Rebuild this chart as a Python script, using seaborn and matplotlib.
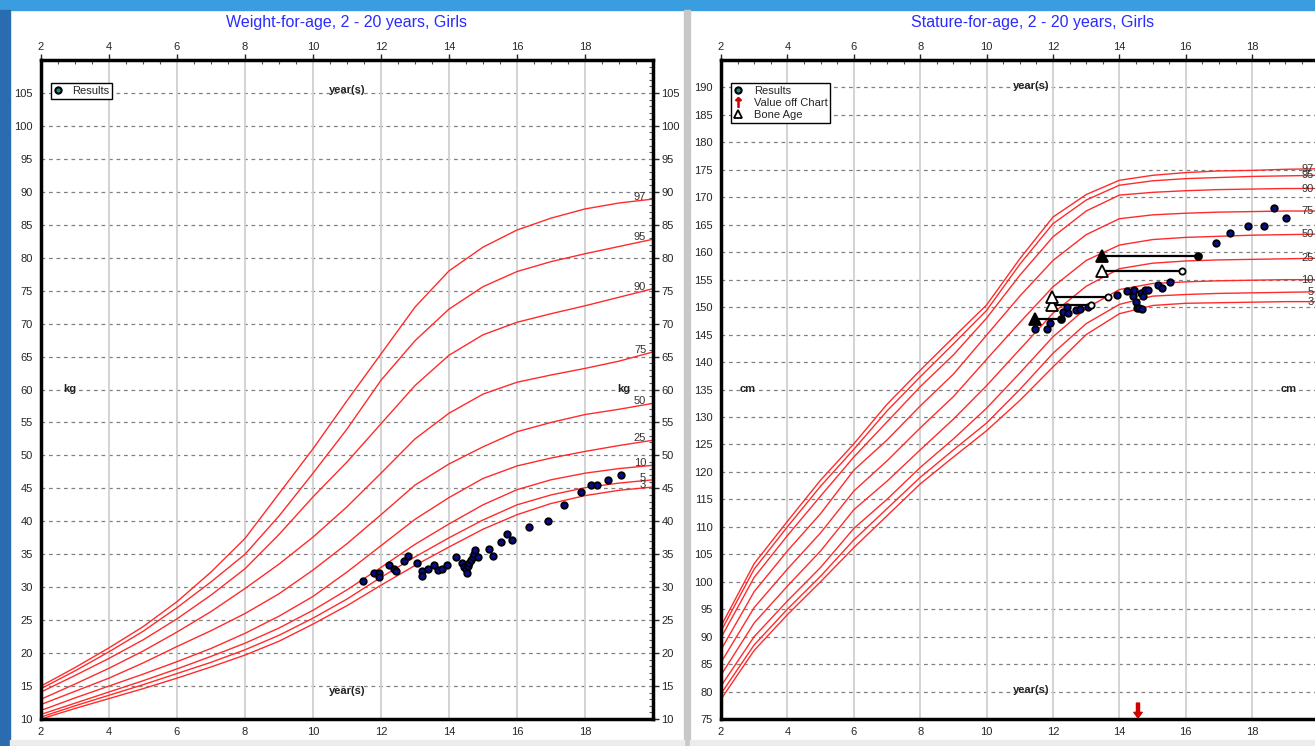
import numpy as np
import pandas as pd
import matplotlib.pyplot as plt
import seaborn as sns
from matplotlib.lines import Line2D
from matplotlib.patches import Rectangle
from matplotlib.ticker import MultipleLocator

# 年龄 (years)
ages = [2, 3, 4, 5, 6, 7, 8, 9, 10, 11, 12, 13, 14, 15, 16, 17, 18, 19, 20]
pct_names = ["3", "5", "10", "25", "50", "75", "90", "95", "97"]

# weight-for-age percentiles (kg)
wt_p3 = [10.0, 11.6, 13.1, 14.6, 16.2, 17.9, 19.7, 21.8, 24.4, 27.2, 30.3, 33.3, 36.1, 38.8, 41.0, 42.7, 43.9, 44.7, 45.2]
wt_p5 = [10.3, 12.0, 13.6, 15.2, 16.9, 18.6, 20.5, 22.7, 25.3, 28.2, 31.5, 34.6, 37.5, 40.2, 42.5, 44.0, 45.1, 45.8, 46.3]
wt_p10 = [10.7, 12.4, 14.1, 15.8, 17.6, 19.5, 21.5, 23.8, 26.5, 29.6, 33.0, 36.5, 39.6, 42.5, 44.8, 46.3, 47.3, 48.0, 48.5]
wt_p25 = [11.3, 13.2, 15.0, 16.8, 18.7, 20.7, 23.0, 25.6, 28.6, 32.3, 36.3, 40.3, 43.6, 46.5, 48.4, 49.6, 50.6, 51.5, 52.3]
wt_p50 = [12.2, 14.2, 16.2, 18.5, 21.0, 23.4, 26.0, 29.0, 32.6, 36.6, 41.0, 45.5, 48.7, 51.3, 53.6, 55.0, 56.2, 57.0, 57.9]
wt_p75 = [13.0, 15.3, 17.7, 20.3, 23.2, 26.3, 29.8, 33.5, 37.6, 42.2, 47.3, 52.5, 56.4, 59.3, 61.1, 62.2, 63.2, 64.3, 65.7]
wt_p90 = [14.1, 16.6, 19.2, 22.0, 25.2, 28.8, 32.8, 38.0, 43.7, 49.0, 54.8, 60.6, 65.2, 68.3, 70.2, 71.5, 72.7, 74.0, 75.3]
wt_p95 = [14.6, 17.3, 20.2, 23.3, 26.9, 30.8, 35.0, 40.8, 47.3, 54.0, 61.4, 67.4, 72.2, 75.6, 77.9, 79.4, 80.6, 81.7, 82.8]
wt_p97 = [15.0, 17.8, 20.8, 24.0, 27.8, 32.3, 37.4, 44.2, 51.0, 58.3, 65.4, 72.5, 78.0, 81.6, 84.2, 86.0, 87.4, 88.3, 88.9]

# stature-for-age percentiles (cm)
ht_p3 = [78.6, 87.5, 94.0, 100.0, 106.2, 112.0, 117.8, 122.7, 127.5, 133.0, 139.1, 145.0, 148.8, 150.3, 150.7, 150.8, 150.9, 151.0, 151.0]
ht_p5 = [79.6, 88.5, 95.0, 101.0, 107.6, 113.3, 119.0, 124.0, 128.9, 135.0, 141.6, 147.0, 150.5, 152.0, 152.3, 152.5, 152.6, 152.7, 152.8]
ht_p10 = [81.0, 90.0, 96.5, 102.6, 109.7, 115.0, 120.8, 126.0, 131.6, 138.0, 144.6, 149.8, 153.2, 154.3, 154.6, 154.8, 154.9, 155.0, 155.0]
ht_p25 = [83.0, 92.5, 99.2, 105.6, 113.1, 118.3, 124.0, 129.6, 135.7, 142.3, 148.9, 153.8, 157.0, 158.0, 158.4, 158.6, 158.7, 158.8, 158.9]
ht_p50 = [85.3, 95.3, 102.3, 108.9, 116.5, 122.0, 128.0, 133.7, 140.5, 147.2, 153.7, 158.5, 161.3, 162.3, 162.7, 162.9, 163.1, 163.2, 163.3]
ht_p75 = [87.6, 98.2, 105.6, 112.4, 120.3, 125.8, 132.0, 137.8, 144.9, 152.0, 158.5, 163.2, 166.1, 166.8, 167.1, 167.3, 167.4, 167.5, 167.5]
ht_p90 = [89.8, 100.8, 108.4, 115.6, 122.7, 129.1, 135.5, 141.3, 148.0, 155.8, 162.8, 167.5, 170.4, 170.9, 171.2, 171.4, 171.5, 171.6, 171.6]
ht_p95 = [91.0, 102.3, 110.0, 117.4, 124.1, 131.1, 137.3, 143.3, 149.4, 157.8, 165.2, 169.5, 172.2, 173.0, 173.4, 173.6, 173.8, 173.9, 174.0]
ht_p97 = [91.9, 103.3, 111.0, 118.5, 125.1, 132.3, 138.5, 144.5, 150.4, 158.8, 166.4, 170.5, 173.1, 174.0, 174.5, 174.8, 174.9, 175.1, 175.2]

# 测量结果 - weight
wt_age = [11.48, 11.80, 11.93, 11.93, 12.24, 12.39, 12.43, 12.69, 12.80, 13.07, 13.20, 13.20, 13.37, 13.57,
          13.69, 13.78, 13.95, 14.21, 14.37, 14.45, 14.49, 14.52, 14.55, 14.60, 14.64, 14.70, 14.74, 14.77,
          14.84, 15.17, 15.30, 15.52, 15.70, 15.86, 16.36, 16.92, 17.37, 17.87, 18.18, 18.34, 18.67, 19.05]
wt_kg = [31.0, 32.2, 32.2, 31.6, 33.4, 32.7, 32.4, 33.9, 34.7, 33.6, 32.4, 31.7, 32.7, 33.4,
         32.6, 32.8, 33.4, 34.6, 33.6, 33.1, 32.7, 32.2, 33.2, 33.7, 34.1, 34.6, 35.0, 35.6,
         34.6, 35.8, 34.8, 36.8, 38.0, 37.1, 39.1, 40.1, 42.5, 44.4, 45.5, 45.5, 46.2, 47.1]

# 测量结果 - stature
ht_age = [11.46, 11.81, 11.91, 12.31, 12.44, 12.41, 12.69, 12.81, 13.06, 13.94, 14.22, 14.40, 14.44, 14.49,
          14.52, 14.60, 14.68, 14.64, 14.70, 14.77, 14.85, 15.15, 15.29, 15.52, 16.90, 17.33, 17.86, 18.36,
          18.66, 19.01]
ht_cm = [146.0, 146.0, 147.1, 149.2, 149.0, 150.1, 149.5, 149.6, 150.1, 152.2, 153.0, 152.0, 153.1, 151.0,
         149.8, 149.8, 149.6, 152.5, 152.1, 153.1, 153.1, 154.0, 153.4, 154.5, 161.6, 163.5, 164.7, 164.7,
         168.0, 166.2]

# bone age: (bone age, chronological age, height, filled)
bone_age = [11.46, 11.98, 11.98, 13.47, 13.47]
chron_age = [12.23, 13.14, 13.67, 16.38, 15.88]
bone_cm = [147.9, 150.4, 151.9, 159.3, 156.5]
bone_filled = [True, False, False, True, False]

off_chart_age = [14.56]

RED = '#ff2b2b'
DOT = '#0a0a90'

sns.set_style("white")
plt.rcParams['font.family'] = ['Liberation Sans', 'DejaVu Sans']


def long_df(vals):
    rows = []
    for name, v in zip(pct_names, vals):
        for a, y in zip(ages, v):
            rows.append((a, y, name))
    return pd.DataFrame(rows, columns=['age', 'value', 'pct'])


def style_axes(ax, ymin, ymax, ytop, right_labels=True):
    ax.set_xlim(2, 20)
    ax.set_ylim(ymin, ytop)
    ax.set_xticks(range(2, 19, 2))
    ax.set_yticks(range(ymin, ymax + 1, 5))
    ax.xaxis.set_minor_locator(MultipleLocator(0.5))
    ax.yaxis.set_minor_locator(MultipleLocator(1))
    ax.tick_params(which='major', direction='out', length=4, width=1, labelsize=8,
                   top=True, right=True, labeltop=True, labelright=right_labels, pad=2)
    ax.tick_params(which='minor', direction='in', length=3, width=0.8, top=True, right=True, color='#555555')
    ax.grid(False)
    for y in range(ymin + 5, ymax + 1, 5):
        ax.axhline(y, color='#808080', lw=0.9, ls=(0, (3, 3)), zorder=0)
    for x in range(4, 19, 2):
        ax.axvline(x, color='#d0d0d0', lw=1.3, zorder=0)
    for s in ax.spines.values():
        s.set_linewidth(2.5)
        s.set_color('black')
    ax.set_xlabel('')
    ax.set_ylabel('')


fig = plt.figure(figsize=(13.15, 7.46), dpi=100, facecolor='white')
W, H = 1315, 746

# window chrome
fig.add_artist(Rectangle((0, 1 - 10 / H), 1, 10 / H, transform=fig.transFigure, color='#3a9de0', zorder=-5))
fig.add_artist(Rectangle((0, 0), 10 / W, 1 - 10 / H, transform=fig.transFigure, color='#2a6cb0', zorder=-5))
fig.add_artist(Rectangle((684 / W, 0), 6 / W, 1 - 10 / H, transform=fig.transFigure, color='#c8c8c8', zorder=-5))
fig.add_artist(Rectangle((10 / W, 0), 674 / W, 6 / H, transform=fig.transFigure, color='#ececec', zorder=-5))
fig.add_artist(Rectangle((690 / W, 0), 625 / W, 6 / H, transform=fig.transFigure, color='#ececec', zorder=-5))

# ---- weight panel ----
ax1 = fig.add_axes([41 / W, 27 / H, 612 / W, 659 / H])
wt_df = long_df([wt_p3, wt_p5, wt_p10, wt_p25, wt_p50, wt_p75, wt_p90, wt_p95, wt_p97])
sns.lineplot(data=wt_df, x='age', y='value', hue='pct', palette=[RED] * 9, legend=False,
             linewidth=1.0, ax=ax1, zorder=2)
sns.scatterplot(x=wt_age, y=wt_kg, color=DOT, edgecolor='black', linewidth=1.3, s=22, ax=ax1, zorder=5)
style_axes(ax1, 10, 105, 110)
for name, v in zip(pct_names, [wt_p3, wt_p5, wt_p10, wt_p25, wt_p50, wt_p75, wt_p90, wt_p95, wt_p97]):
    ax1.text(19.8, v[-1] + 0.3, name, ha='right', va='center', fontsize=8, color='#333333', zorder=3)
ax1.text(11.0, 105.4, 'year(s)', ha='center', va='center', fontsize=8, fontweight='bold', color='#222222')
ax1.text(11.0, 14.2, 'year(s)', ha='center', va='center', fontsize=8, fontweight='bold', color='#222222')
ax1.text(2.85, 60, 'kg', ha='center', va='center', fontsize=8, fontweight='bold', color='#222222')
ax1.text(19.15, 60, 'kg', ha='center', va='center', fontsize=8, fontweight='bold', color='#222222')
fig.text(347 / W, 1 - 22 / H, 'Weight-for-age, 2 - 20 years, Girls', ha='center', va='center',
         fontsize=11.5, color='#2b2bff')
h_res = Line2D([], [], marker='o', ls='', markerfacecolor='#1a8c8c', markeredgecolor='black',
               markeredgewidth=1.5, markersize=4.5, label='Results')
ax1.legend(handles=[h_res], loc='upper left', bbox_to_anchor=(0.016, 0.965), fontsize=8, frameon=True,
           fancybox=False, edgecolor='black', framealpha=1, borderpad=0.25, handlelength=0.8,
           handletextpad=0.9, borderaxespad=0)

# ---- stature panel ----
ax2 = fig.add_axes([721 / W, 27 / H, 597.6 / W, 659 / H])
ht_df = long_df([ht_p3, ht_p5, ht_p10, ht_p25, ht_p50, ht_p75, ht_p90, ht_p95, ht_p97])
sns.lineplot(data=ht_df, x='age', y='value', hue='pct', palette=[RED] * 9, legend=False,
             linewidth=1.0, ax=ax2, zorder=2)
for ba, ca, h, filled in zip(bone_age, chron_age, bone_cm, bone_filled):
    fc = 'black' if filled else 'white'
    ax2.plot([ba, ca], [h, h], color='black', lw=1.6, zorder=4)
    ax2.plot([ba], [h], marker='^', ms=8, markerfacecolor=fc, markeredgecolor='black', mew=1.3, zorder=6)
    ax2.plot([ca], [h], marker='o', ms=5 if filled else 4.5, markerfacecolor=fc, markeredgecolor='black',
             mew=1.3, zorder=6)
sns.scatterplot(x=ht_age, y=ht_cm, color=DOT, edgecolor='black', linewidth=1.3, s=22, ax=ax2, zorder=5)
for a in off_chart_age:
    ax2.annotate('', xy=(a, 75.2), xytext=(a, 77.9),
                 arrowprops=dict(color='#d00000', width=2.2, headwidth=6, headlength=4, shrink=0), zorder=7)
style_axes(ax2, 75, 190, 195, right_labels=False)
for name, v in zip(pct_names, [ht_p3, ht_p5, ht_p10, ht_p25, ht_p50, ht_p75, ht_p90, ht_p95, ht_p97]):
    ax2.text(19.85, v[-1], name, ha='right', va='center', fontsize=8, color='#333333', zorder=3)
ax2.text(11.34, 190.3, 'year(s)', ha='center', va='center', fontsize=8, fontweight='bold', color='#222222')
ax2.text(11.34, 80.3, 'year(s)', ha='center', va='center', fontsize=8, fontweight='bold', color='#222222')
ax2.text(2.8, 135, 'cm', ha='center', va='center', fontsize=8, fontweight='bold', color='#222222')
ax2.text(19.1, 135, 'cm', ha='center', va='center', fontsize=8, fontweight='bold', color='#222222')
fig.text(1033 / W, 1 - 22 / H, 'Stature-for-age, 2 - 20 years, Girls', ha='center', va='center',
         fontsize=11.5, color='#2b2bff')
h_off = Line2D([], [], marker=r'$\uparrow$', ls='', color='#d00000', markersize=7, label='Value off Chart')
h_bone = Line2D([], [], marker='^', ls='', markerfacecolor='white', markeredgecolor='black',
                markeredgewidth=1.3, markersize=6, label='Bone Age')
ax2.legend(handles=[h_res, h_off, h_bone], loc='upper left', bbox_to_anchor=(0.017, 0.965), fontsize=8,
           frameon=True, fancybox=False, edgecolor='black', framealpha=1, borderpad=0.25, handlelength=0.8,
           handletextpad=1.0, borderaxespad=0, labelspacing=0.2)

fig.savefig('out.png', dpi=100, facecolor=fig.get_facecolor())
